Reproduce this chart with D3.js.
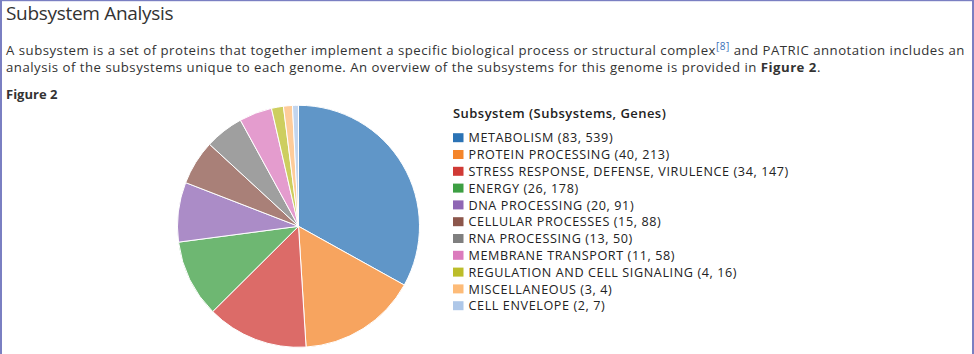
<!DOCTYPE html>
<html>
<head>
<meta charset="utf-8">
<script src="https://cdn.jsdelivr.net/npm/d3@7"></script>
<style>
  body { margin: 0; background: #fff; }
  svg { display: block; font-family: "Open Sans", sans-serif; }
</style>
</head>
<body>
<div id="container"></div>
<script>
// data we work with
let categories = [
  "METABOLISM",
  "PROTEIN PROCESSING",
  "STRESS RESPONSE, DEFENSE, VIRULENCE",
  "ENERGY",
  "DNA PROCESSING",
  "CELLULAR PROCESSES",
  "RNA PROCESSING",
  "MEMBRANE TRANSPORT",
  "REGULATION AND CELL SIGNALING",
  "MISCELLANEOUS",
  "CELL ENVELOPE"
];
let subsystems = [83, 40, 34, 26, 20, 15, 13, 11, 4, 3, 2];
let genes = [539, 213, 147, 178, 91, 88, 50, 58, 16, 4, 7];

let palette = ["#2b73b5", "#f4852a", "#d03a35", "#3d9f43", "#8f66b4", "#8c564b",
               "#7f7f7f", "#db7bbd", "#bcbd2a", "#fdbb78", "#aec7e8"];

let w = 974;
let h = 354;

let viz = d3.select("#container")
  .append("svg")
    .attr("width", w)
    .attr("height", h)
;

// page frame
viz.append("rect").attr("x", 0).attr("y", 0).attr("width", 2).attr("height", h).attr("fill", "#7a7fc2");
viz.append("rect").attr("x", 0).attr("y", 0).attr("width", w).attr("height", 1.2).attr("fill", "#7a7fc2");
viz.append("rect").attr("x", w - 2).attr("y", 0).attr("width", 2).attr("height", h).attr("fill", "#7a7fc2");

// heading + text
viz.append("text")
  .attr("x", 6).attr("y", 20)
  .attr("font-size", 19).attr("letter-spacing", -0.3).attr("font-weight", 500).attr("fill", "#333")
  .text("Subsystem Analysis");

let line1 = viz.append("text")
  .attr("x", 6).attr("y", 55)
  .attr("font-size", 13.2).attr("letter-spacing", 0.5).attr("fill", "#333");
line1.append("tspan").text("A subsystem is a set of proteins that together implement a specific biological process or structural complex");
line1.append("tspan").attr("dy", -5).attr("font-size", 10).attr("fill", "#3a6fb8").text("[8]");
line1.append("tspan").attr("dy", 5).text(" and PATRIC annotation includes an");

let line2 = viz.append("text")
  .attr("x", 6).attr("y", 72)
  .attr("font-size", 13.2).attr("letter-spacing", 0.5).attr("fill", "#333");
line2.append("tspan").text("analysis of the subsystems unique to each genome. An overview of the subsystems for this genome is provided in ");
line2.append("tspan").attr("font-weight", 700).text("Figure 2");
line2.append("tspan").text(".");

viz.append("text")
  .attr("x", 6).attr("y", 99)
  .attr("font-size", 13).attr("font-weight", 700).attr("fill", "#333")
  .text("Figure 2");

// pie
let cx = 298.5, cy = 226.3, r = 121;
let pieMaker = d3.pie().sort(null).value(function(d){ return d; });
let arcMaker = d3.arc().innerRadius(0).outerRadius(r);

let color = d3.scaleOrdinal().domain(categories).range(palette);

let pieGroup = viz.append("g").attr("transform", "translate(" + cx + "," + cy + ")");
pieGroup.selectAll("path")
  .data(pieMaker(subsystems))
  .enter()
  .append("path")
    .attr("d", arcMaker)
    .attr("fill", function(d, i){ return color(categories[i]); })
    .attr("fill-opacity", 0.75)
    .attr("stroke", "#fff")
    .attr("stroke-width", 1)
;

// legend
viz.append("text")
  .attr("x", 453).attr("y", 118)
  .attr("font-size", 13).attr("letter-spacing", 0.45).attr("font-weight", 600).attr("fill", "#222")
  .text("Subsystem (Subsystems, Genes)");

let rowY = d3.scaleLinear().domain([0, 1]).range([137.7, 154.5]);
let legend = viz.append("g").selectAll("g")
  .data(categories)
  .enter()
  .append("g")
    .attr("transform", function(d, i){ return "translate(453," + rowY(i) + ")"; })
;
legend.append("rect")
  .attr("x", 0).attr("y", -4.5)
  .attr("width", 10.5).attr("height", 9)
  .attr("fill", function(d){ return color(d); });
legend.append("text")
  .attr("x", 15.5).attr("y", 4.6)
  .attr("font-size", 12.6).attr("letter-spacing", 0.6).attr("fill", "#222")
  .text(function(d, i){ return d + " (" + subsystems[i] + ", " + genes[i] + ")"; });
</script>
</body>
</html>
